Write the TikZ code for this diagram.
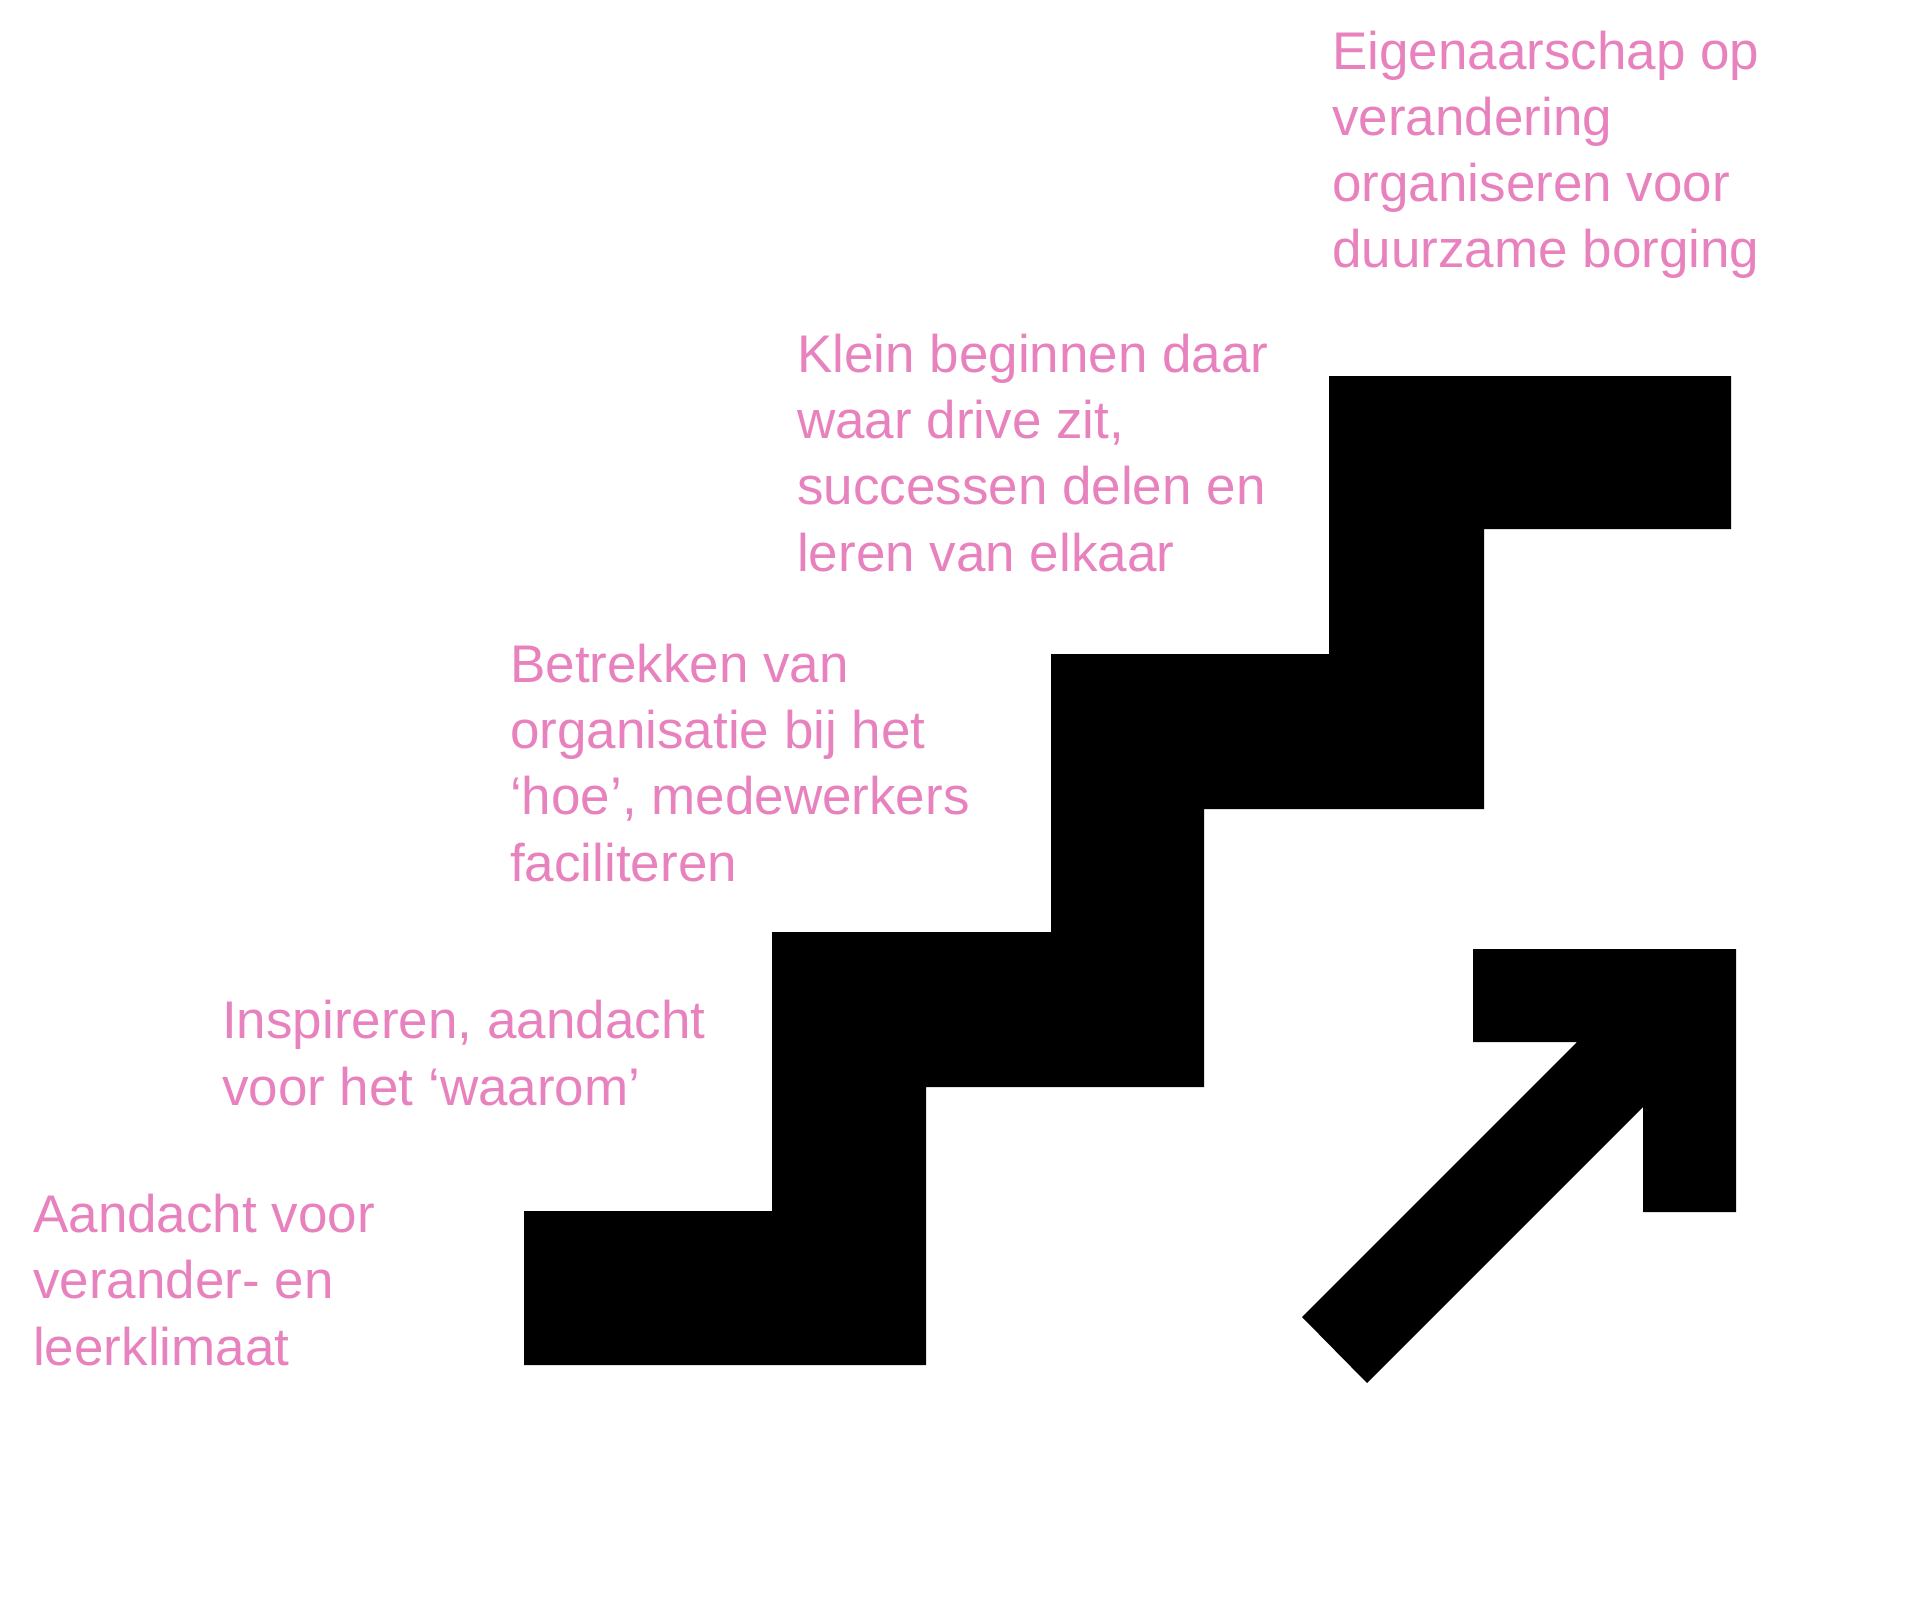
\documentclass[tikz,border=0pt]{standalone}
\usepackage{fontspec}
\setmainfont{Liberation Sans}
\definecolor{stairpink}{RGB}{232,130,190}
\tikzset{
	steptext/.style={anchor=base west, align=left, inner sep=0pt,
		text=stairpink, font=\fontsize{53}{66.2}\selectfont},
	blackshape/.style={fill=black, draw=none}
}

\begin{document}
\begin{tikzpicture}[x=1pt, y=-1pt]
	\useasboundingbox (0, 0) rectangle (1917, 1613);
	
	% Staircase, four steps going up to the right
	\fill[blackshape] (524, 1365) -- (926, 1365) -- (926, 1087) -- (1204, 1087)
	-- (1204, 809) -- (1484, 809) -- (1484, 529) -- (1731, 529) -- (1731, 376)
	-- (1329, 376) -- (1329, 654) -- (1051, 654) -- (1051, 932) -- (772, 932)
	-- (772, 1211) -- (524, 1211) -- cycle;
	
	% Arrow pointing up-right
	\fill[blackshape] (1473, 949) -- (1736, 949) -- (1736, 1212) -- (1643, 1212)
	-- (1643, 1107) -- (1367, 1383) -- (1302, 1317) -- (1577, 1042)
	-- (1473, 1042) -- cycle;
	
	% Labels, one per step (anchored at the baseline of the last line)
	\node[steptext] (T1) at (33, 1365){Aandacht voor\\verander- en\\leerklimaat};
	\node[steptext] (T2) at (222, 1105){Inspireren, aandacht\\voor het ‘waarom’};
	\node[steptext] (T3) at (510, 881){Betrekken van\\organisatie bij het\\‘hoe’, medewerkers\\faciliteren};
	\node[steptext] (T4) at (797, 571){Klein beginnen daar\\waar drive zit,\\successen delen en\\leren van elkaar};
	\node[steptext] (T5) at (1332, 268){Eigenaarschap op\\verandering\\organiseren voor\\duurzame borging};
\end{tikzpicture}
\end{document}
